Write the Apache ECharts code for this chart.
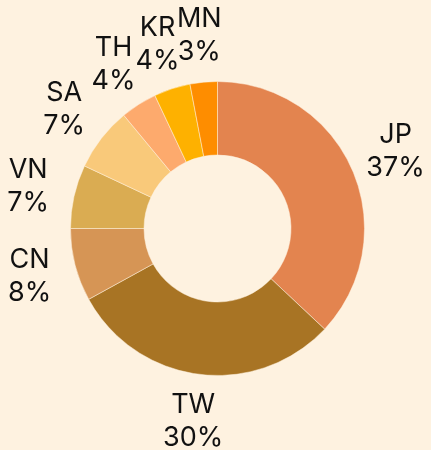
<!DOCTYPE html>
<html>
<head>
<meta charset="utf-8">
<script src="https://cdn.jsdelivr.net/npm/echarts@6/dist/echarts.min.js"></script>
<style>
html,body{margin:0;padding:0;background:#FEF2E0;}
#chart{width:431px;height:450px;}
</style>
</head>
<body>
<div id="chart"></div>
<script>
const categories = ['JP', 'TW', 'CN', 'VN', 'SA', 'TH', 'KR', 'MN'];
const values = [37, 30, 8, 7, 7, 4, 4, 3];
const colors = ['#E3844F', '#A87424', '#D69555', '#DAAC52', '#F9C97A', '#FDAA6D', '#FEB100', '#FE8D00'];

const data = categories.map((c, i) => ({ name: c, value: values[i], itemStyle: { color: colors[i] } }));
const total = values.reduce((a, b) => a + b, 0);

const chart = echarts.init(document.getElementById('chart'));
chart.setOption({
  backgroundColor: '#FEF2E0',
  animation: false,
  series: [
    {
      type: 'pie',
      center: [217.5, 228.5],
      radius: [73.5, 147],
      startAngle: 90,
      clockwise: true,
      avoidLabelOverlap: false,
      silent: true,
      label: { show: false },
      labelLine: { show: false },
      itemStyle: { borderColor: '#FEF2E0', borderWidth: 0.5 },
      data: data
    },
    {
      type: 'pie',
      center: [217.5, 228.5],
      radius: [102, 280],
      startAngle: 90,
      clockwise: true,
      avoidLabelOverlap: false,
      silent: true,
      z: 0,
      itemStyle: { color: 'rgba(0,0,0,0)' },
      labelLine: { show: false },
      labelLayout: { hideOverlap: false },
      label: {
        show: true,
        position: 'inside',
        rotate: 0,
        color: '#111',
        fontFamily: 'Inter',
        fontSize: 27,
        lineHeight: 33,
        align: 'center',
        formatter: p => p.name + '\n' + Math.round(p.value / total * 100) + '%'
      },
      data: categories.map((c, i) => ({ name: c, value: values[i] }))
    }
  ]
});
</script>
</body>
</html>
